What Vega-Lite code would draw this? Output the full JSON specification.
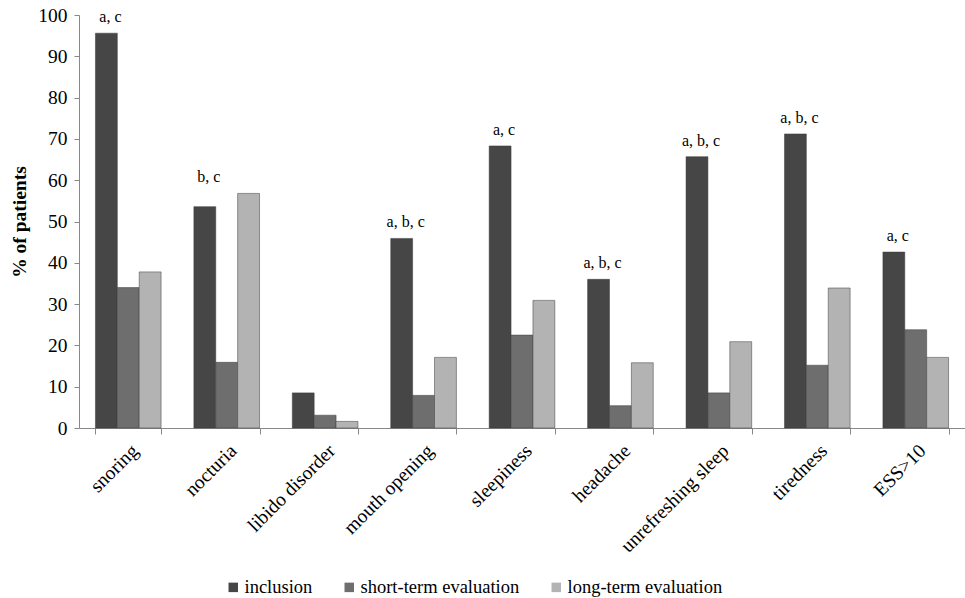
{
  "$schema": "https://vega.github.io/schema/vega-lite/v6.json",
  "autosize": {"type": "none"},
  "width": 886,
  "height": 413,
  "padding": {"left": 79, "top": 15, "right": 0, "bottom": 170},
  "background": "white",
  "config": {
    "font": "Liberation Serif",
    "view": {"stroke": null},
    "text": {"font": "Liberation Serif"},
    "legend": {"labelFont": "Liberation Serif", "titleFont": "Liberation Serif"},
    "axis": {"labelFont": "Liberation Serif", "titleFont": "Liberation Serif", "labelColor": "#000", "titleColor": "#000"}
  },
  "data": {
    "values": [
      {"symptom": "snoring", "series": "inclusion", "value": 95.6, "sig": "a, c"},
      {"symptom": "snoring", "series": "short-term evaluation", "value": 34.0},
      {"symptom": "snoring", "series": "long-term evaluation", "value": 37.8},
      {"symptom": "nocturia", "series": "inclusion", "value": 53.6, "sig": "b, c"},
      {"symptom": "nocturia", "series": "short-term evaluation", "value": 15.9},
      {"symptom": "nocturia", "series": "long-term evaluation", "value": 56.8},
      {"symptom": "libido disorder", "series": "inclusion", "value": 8.5},
      {"symptom": "libido disorder", "series": "short-term evaluation", "value": 3.1},
      {"symptom": "libido disorder", "series": "long-term evaluation", "value": 1.6},
      {"symptom": "mouth opening", "series": "inclusion", "value": 45.9, "sig": "a, b, c"},
      {"symptom": "mouth opening", "series": "short-term evaluation", "value": 7.9},
      {"symptom": "mouth opening", "series": "long-term evaluation", "value": 17.1},
      {"symptom": "sleepiness", "series": "inclusion", "value": 68.3, "sig": "a, c"},
      {"symptom": "sleepiness", "series": "short-term evaluation", "value": 22.5},
      {"symptom": "sleepiness", "series": "long-term evaluation", "value": 30.9},
      {"symptom": "headache", "series": "inclusion", "value": 36.0, "sig": "a, b, c"},
      {"symptom": "headache", "series": "short-term evaluation", "value": 5.4},
      {"symptom": "headache", "series": "long-term evaluation", "value": 15.8},
      {"symptom": "unrefreshing sleep", "series": "inclusion", "value": 65.7, "sig": "a, b, c"},
      {"symptom": "unrefreshing sleep", "series": "short-term evaluation", "value": 8.5},
      {"symptom": "unrefreshing sleep", "series": "long-term evaluation", "value": 20.9},
      {"symptom": "tiredness", "series": "inclusion", "value": 71.2, "sig": "a, b, c"},
      {"symptom": "tiredness", "series": "short-term evaluation", "value": 15.2},
      {"symptom": "tiredness", "series": "long-term evaluation", "value": 33.9},
      {"symptom": "ESS>10", "series": "inclusion", "value": 42.6, "sig": "a, c"},
      {"symptom": "ESS>10", "series": "short-term evaluation", "value": 23.8},
      {"symptom": "ESS>10", "series": "long-term evaluation", "value": 17.1}
    ]
  },
  "transform": [
    {"joinaggregate": [{"op": "max", "field": "value", "as": "groupMax"}], "groupby": ["symptom"]}
  ],
  "encoding": {
    "x": {
      "field": "symptom", "type": "nominal", "sort": null,
      "scale": {"paddingInner": 0.333, "paddingOuter": 0.167},
      "axis": {
        "title": null, "labelAngle": -45, "labelFontSize": 19.5, "labelPadding": 7,
        "labelFont": "Liberation Serif",
        "tickBand": "extent", "tickSize": 6, "tickColor": "#888", "domainColor": "#888",
        "labelAlign": "right", "labelBaseline": "top"
      }
    },
    "xOffset": {"field": "series", "type": "nominal", "sort": ["inclusion", "short-term evaluation", "long-term evaluation"]}
  },
  "layer": [
    {
      "mark": {"type": "bar", "stroke": "#3a3a3a", "strokeWidth": 0.5},
      "encoding": {
        "y": {
          "field": "value", "type": "quantitative",
          "scale": {"domain": [0, 100]},
          "axis": {
            "title": "% of patients", "titleFontSize": 19.5, "titleFontWeight": "bold", "titlePadding": 8,
            "labelFont": "Liberation Serif", "titleFont": "Liberation Serif",
            "labelFontSize": 19.5, "values": [0, 10, 20, 30, 40, 50, 60, 70, 80, 90, 100],
            "grid": false, "tickSize": 5, "tickColor": "#888", "domainColor": "#888", "labelPadding": 7
          }
        },
        "color": {
          "field": "series", "type": "nominal",
          "sort": ["inclusion", "short-term evaluation", "long-term evaluation"],
          "scale": {"domain": ["inclusion", "short-term evaluation", "long-term evaluation"], "range": ["#464646", "#6e6e6e", "#b3b3b3"]},
          "legend": {
            "title": null, "orient": "none", "direction": "horizontal", "legendX": 145, "legendY": 563,
            "symbolType": "square", "symbolSize": 90, "symbolStrokeWidth": 0, "labelFontSize": 18.5,
            "labelFont": "Liberation Serif", "labelColor": "#000", "columnPadding": 27, "labelOffset": 2
          }
        }
      }
    },
    {
      "transform": [{"filter": "datum.sig != null"}],
      "mark": {"type": "text", "font": "Liberation Serif", "fontSize": 16, "baseline": "bottom", "dy": -8, "dx": 4, "color": "#000"},
      "encoding": {
        "y": {"field": "groupMax", "type": "quantitative"},
        "text": {"field": "sig"}
      }
    }
  ]
}
